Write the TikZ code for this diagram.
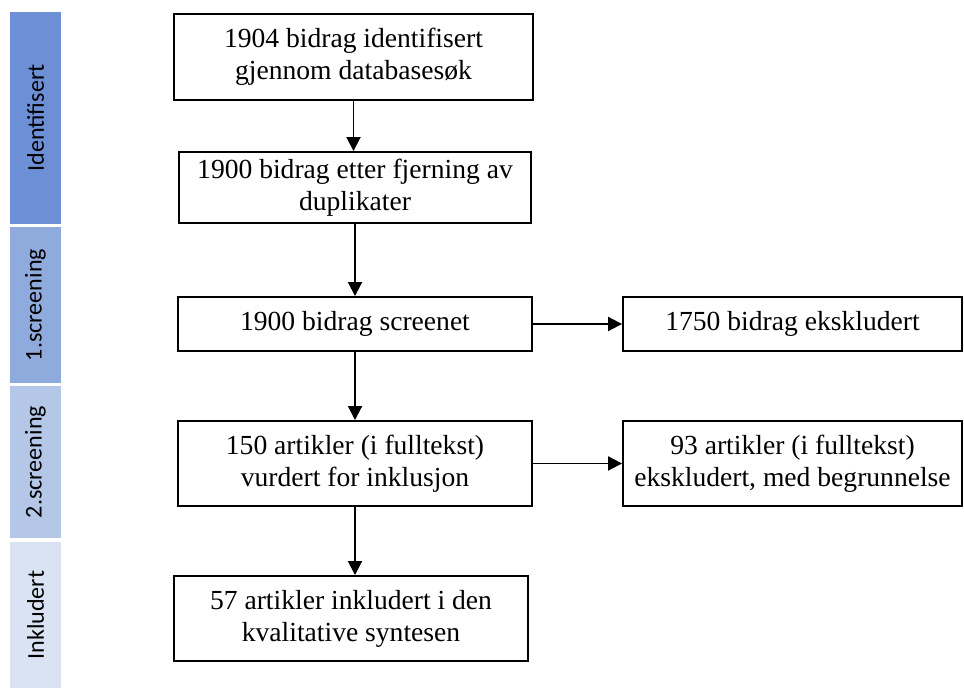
\documentclass[tikz,border=0pt]{standalone}
\usepackage{fontspec}
\setmainfont{Liberation Serif}
\newfontfamily\boxfont{Liberation Serif}
\newfontfamily\phasefont{Carlito}
\usepackage{xcolor}
\usetikzlibrary{arrows.meta}
\usetikzlibrary{math}
\definecolor{phaseA}{RGB}{109,143,213}
\definecolor{phaseB}{RGB}{143,170,220}
\definecolor{phaseC}{RGB}{180,199,231}
\definecolor{phaseD}{RGB}{218,227,243}

\begin{document}
\begin{tikzpicture}[x=0.02cm,y=-0.02cm,
  box/.style={draw,line width=1.1pt,inner sep=0pt,align=center,
    font=\boxfont\fontsize{15.7}{18.2}\selectfont},
  phase/.style={rotate=90,inner sep=0pt,minimum height=1.02cm,
    font=\phasefont\fontsize{13.7}{16}\selectfont},
  arr/.style={line width=1.1pt,-{Triangle[length=0.28cm,width=0.28cm]}}]
\tikzmath{
\bx=35.5;
}
\useasboundingbox (0,0) rectangle (964,688);

% phases on the left
\node[phase,fill=phaseA,minimum width=4.24cm] (idf) at (\bx,118) {Identifisert};
\node[phase,fill=phaseB,minimum width=3.12cm] (scrA) at (\bx,305) {1.screening};
\node[phase,fill=phaseC,minimum width=3.04cm] (scrB) at (\bx,462) {2.screening};
\node[phase,fill=phaseD,minimum width=2.92cm] (inkl) at (\bx,615) {Inkludert};

% flow
\node[box,minimum width=7.18cm,minimum height=1.72cm] (found) at (353.5,57)
  {1904 bidrag identifisert\\gjennom databasesøk};
\node[box,minimum width=7.04cm,minimum height=1.42cm] (nodup) at (355,187.5)
  {1900 bidrag etter fjerning av\\duplikater};
\node[box,minimum width=7.08cm,minimum height=1.08cm] (screened) at (355,324)
  {1900 bidrag screenet};
\node[box,minimum width=7.08cm,minimum height=1.70cm] (fulltext) at (355,463.5)
  {150 artikler (i fulltekst)\\vurdert for inklusjon};
\node[box,minimum width=7.08cm,minimum height=1.70cm] (included) at (351,618.5)
  {57 artikler inkludert i den\\kvalitative syntesen};

\node[box,minimum width=6.78cm,minimum height=1.08cm] (exclA) at (792.5,324)
  {1750 bidrag ekskludert};
\node[box,minimum width=6.78cm,minimum height=1.70cm] (exclB) at (792.5,463.5)
  {93 artikler (i fulltekst)\\ekskludert, med begrunnelse};

\draw[arr] (found.south) -- (found.south |- nodup.north);
\draw[arr] (nodup.south) -- (nodup.south |- screened.north);
\draw[arr] (screened.south) -- (screened.south |- fulltext.north);
\draw[arr] (fulltext.south) -- (fulltext.south |- included.north);

\draw[arr] (screened.east) -- (exclA.west);
\draw[arr] (fulltext.east) -- (exclB.west);
\end{tikzpicture}
\end{document}
